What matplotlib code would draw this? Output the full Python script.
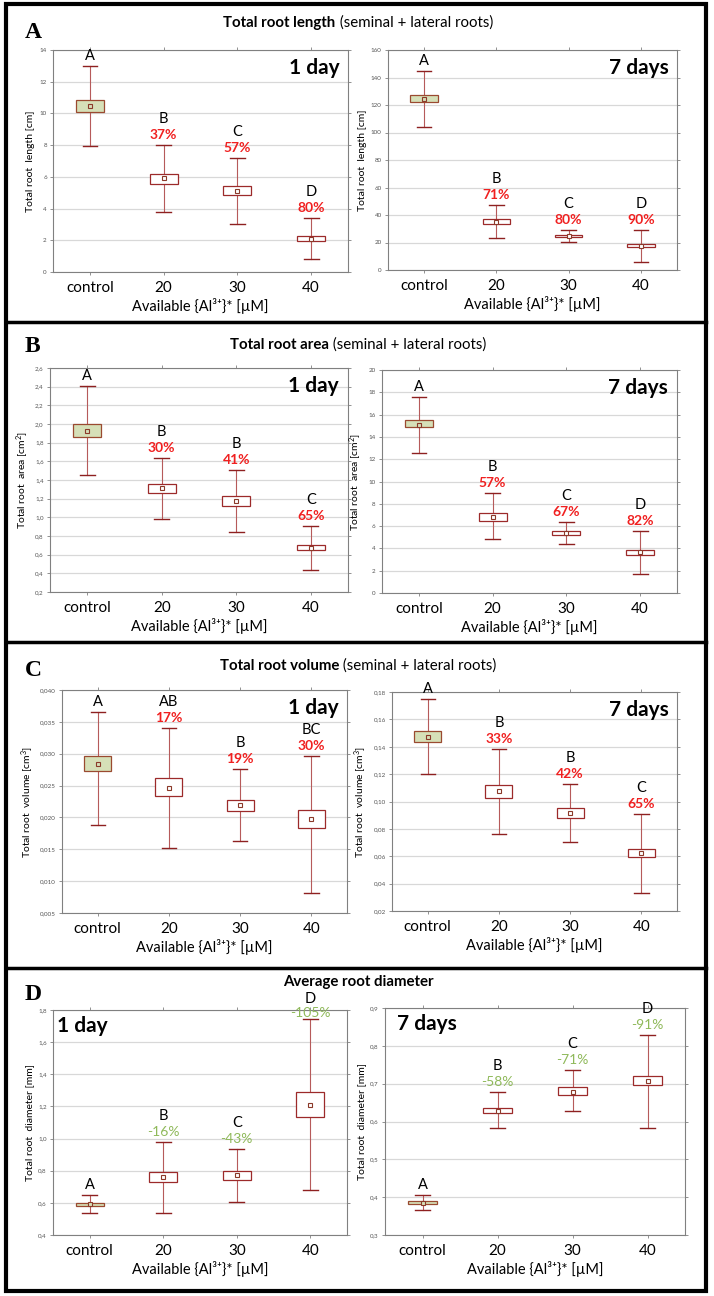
import matplotlib
matplotlib.use("Agg")
import matplotlib.pyplot as plt
from matplotlib.ticker import FuncFormatter, MultipleLocator
from matplotlib.patches import Rectangle
from matplotlib.lines import Line2D

plt.rcParams['font.family'] = ['Lato', 'DejaVu Sans']
plt.rcParams['mathtext.fontset'] = 'custom'
plt.rcParams['mathtext.rm'] = 'Lato'
plt.rcParams['mathtext.it'] = 'Lato:italic'
plt.rcParams['mathtext.bf'] = 'Lato:bold'

categories = ["control", "20", "30", "40"]

# ---- data: mean, box low, box high, whisker low, whisker high ----
A1_mean = [10.45, 5.9, 5.12, 2.1]
A1_q1 = [10.1, 5.58, 4.84, 1.93]
A1_q3 = [10.87, 6.21, 5.45, 2.29]
A1_lo = [7.96, 3.77, 3.05, 0.84]
A1_hi = [13.0, 8.04, 7.22, 3.39]
A1_let = ["A", "B", "C", "D"]
A1_pct = ["", "37%", "57%", "80%"]

A7_mean = [124.1, 34.7, 24.5, 17.5]
A7_q1 = [122.0, 33.2, 23.8, 16.5]
A7_q3 = [127.0, 36.8, 25.7, 18.7]
A7_lo = [103.8, 23.0, 20.1, 5.6]
A7_hi = [145.0, 47.0, 29.1, 29.1]
A7_let = ["A", "B", "C", "D"]
A7_pct = ["", "71%", "80%", "90%"]

B1_mean = [1.925, 1.314, 1.17, 0.67]
B1_q1 = [1.86, 1.264, 1.125, 0.646]
B1_q3 = [1.996, 1.36, 1.225, 0.704]
B1_lo = [1.45, 0.98, 0.846, 0.44]
B1_hi = [2.41, 1.64, 1.507, 0.91]
B1_let = ["A", "B", "B", "C"]
B1_pct = ["", "30%", "41%", "65%"]

B7_mean = [15.09, 6.83, 5.39, 3.65]
B7_q1 = [14.85, 6.5, 5.24, 3.44]
B7_q3 = [15.5, 7.2, 5.54, 3.9]
B7_lo = [12.6, 4.8, 4.37, 1.74]
B7_hi = [17.6, 8.95, 6.38, 5.6]
B7_let = ["A", "B", "C", "D"]
B7_pct = ["", "57%", "67%", "82%"]

C1_mean = [0.02837, 0.02463, 0.02197, 0.01974]
C1_q1 = [0.02727, 0.02330, 0.02103, 0.01827]
C1_q3 = [0.02957, 0.02612, 0.02276, 0.02110]
C1_lo = [0.01885, 0.01527, 0.01637, 0.00817]
C1_hi = [0.0366, 0.0340, 0.02764, 0.0297]
C1_let = ["A", "AB", "B", "BC"]
C1_pct = ["", "17%", "19%", "30%"]

C7_mean = [0.1468, 0.1074, 0.0915, 0.0624]
C7_q1 = [0.1434, 0.1027, 0.0881, 0.0595]
C7_q3 = [0.1514, 0.1120, 0.0954, 0.0651]
C7_lo = [0.120, 0.0766, 0.0705, 0.0334]
C7_hi = [0.1746, 0.1385, 0.1129, 0.091]
C7_let = ["A", "B", "B", "C"]
C7_pct = ["", "33%", "42%", "65%"]

D1_mean = [0.59, 0.759, 0.771, 1.209]
D1_q1 = [0.58, 0.728, 0.744, 1.137]
D1_q3 = [0.60, 0.79, 0.80, 1.288]
D1_lo = [0.535, 0.535, 0.608, 0.68]
D1_hi = [0.647, 0.981, 0.936, 1.745]
D1_let = ["A", "B", "C", "D"]
D1_pct = ["", "-16%", "-43%", "-105%"]

D7_mean = [0.3857, 0.628, 0.678, 0.708]
D7_q1 = [0.382, 0.622, 0.671, 0.696]
D7_q3 = [0.389, 0.637, 0.690, 0.721]
D7_lo = [0.367, 0.583, 0.627, 0.584]
D7_hi = [0.406, 0.678, 0.736, 0.829]
D7_let = ["A", "B", "C", "D"]
D7_pct = ["", "-58%", "-71%", "-91%"]

W, H = 714, 1296
fig = plt.figure(figsize=(W / 100, H / 100), dpi=100)

def rect(x0, y0, x1, y1):
    return [x0 / W, 1 - y1 / H, (x1 - x0) / W, (y1 - y0) / H]

EDGE = "#9c2a2a"
CAP = "#8e2020"
WHISK = "#b65a5a"
CTRL_FACE = "#d6e0b8"
RED = "#f02020"
GREEN = "#8fb95a"
XLABEL = "Available {Al³⁺}* [µM]"

def panel(pos, mean, q1, q3, lo, hi, lets, pcts, ylim, step, decimals,
          ylabel, daytxt, day_topleft, pct_color):
    ax = fig.add_axes(rect(*pos))
    stats = []
    for i in range(len(categories)):
        stats.append(dict(med=mean[i], q1=q1[i], q3=q3[i], whislo=lo[i],
                          whishi=hi[i], mean=mean[i], fliers=[],
                          label=categories[i]))
    bp = ax.bxp(stats, positions=range(len(categories)), widths=0.38,
                capwidths=0.2, patch_artist=True, showmeans=True,
                showfliers=False,
                boxprops=dict(edgecolor=EDGE, linewidth=0.9, facecolor="white"),
                whiskerprops=dict(color=WHISK, linewidth=0.8),
                capprops=dict(color=CAP, linewidth=1.0),
                medianprops=dict(linewidth=0),
                meanprops=dict(marker="s", markersize=3.5, markerfacecolor="white",
                               markeredgecolor="#8b3a2a", markeredgewidth=0.8))
    bp['boxes'][0].set_facecolor(CTRL_FACE)
    bp['boxes'][0].set_edgecolor("#9a4a30")
    bp['means'][0].set_markerfacecolor(CTRL_FACE)
    for b in bp['boxes']:
        b.set_zorder(3)
    for m in bp['means']:
        m.set_zorder(4)
    ax.set_xlim(-0.5, 3.5)
    ax.set_ylim(*ylim)
    ax.yaxis.set_major_locator(MultipleLocator(step))
    ax.yaxis.set_major_formatter(FuncFormatter(
        lambda v, p: (f"{v:.{decimals}f}").replace(".", ",")))
    ax.grid(axis="y", color="#d8d8d8", linewidth=0.9, zorder=0)
    ax.set_axisbelow(True)
    for s in ax.spines.values():
        s.set_color("#808080")
        s.set_linewidth(0.8)
    ax.tick_params(axis="y", labelsize=4.5, labelcolor="#555555", length=2.5,
                   width=0.6, color="#808080", right=True, direction="out", pad=2)
    ax.tick_params(axis="x", labelsize=11, length=2.5, width=0.6,
                   color="#808080", top=True, direction="out", pad=4)
    ax.set_xticks(range(len(categories)))
    ax.set_xticklabels(categories)
    ax.set_xlabel(XLABEL, fontsize=10.5, labelpad=2,
                  family=['Lato', 'DejaVu Sans'])
    ax.set_ylabel(ylabel, fontsize=7.5, labelpad=3)
    ytop = ylim[1]
    yr = ylim[1] - ylim[0]
    for i in range(len(categories)):
        tight = (ytop - hi[i]) < 0.06 * yr and pcts[i]
        if pcts[i]:
            ax.annotate(pcts[i], xy=(i, hi[i]), xytext=(0, 0 if tight else 4),
                        textcoords="offset pixels", ha="center", va="bottom",
                        fontsize=10, fontweight="bold" if pct_color == RED else "normal",
                        color=pct_color, annotation_clip=False)
            off = 13 if tight else 19
        else:
            off = 3
        ax.annotate(lets[i], xy=(i, hi[i]), xytext=(0, off),
                    textcoords="offset pixels", ha="center", va="bottom",
                    fontsize=10.5, color="black", annotation_clip=False)
    if day_topleft:
        ax.text(0.015 if daytxt == "1 day" else 0.04, 0.93, daytxt,
                transform=ax.transAxes, ha="left", va="center",
                fontsize=15, fontweight="bold")
    else:
        ax.text(0.97, 0.92, daytxt, transform=ax.transAxes, ha="right",
                va="center", fontsize=15, fontweight="bold")
    return ax

panel((53, 50, 348, 272), A1_mean, A1_q1, A1_q3, A1_lo, A1_hi, A1_let, A1_pct,
      (0, 14), 2, 0, "Total root  length [cm]", "1 day", False, RED)
panel((388, 50, 677, 270), A7_mean, A7_q1, A7_q3, A7_lo, A7_hi, A7_let, A7_pct,
      (0, 160), 20, 0, "Total root  length [cm]", "7 days", False, RED)
panel((50, 368, 348, 592), B1_mean, B1_q1, B1_q3, B1_lo, B1_hi, B1_let, B1_pct,
      (0.2, 2.6), 0.2, 1, "Total root  area [cm$^{2}$]", "1 day", False, RED)
panel((382, 370, 677, 593), B7_mean, B7_q1, B7_q3, B7_lo, B7_hi, B7_let, B7_pct,
      (0, 20), 2, 0, "Total root  area [cm$^{2}$]", "7 days", False, RED)
panel((62, 690, 347, 913), C1_mean, C1_q1, C1_q3, C1_lo, C1_hi, C1_let, C1_pct,
      (0.005, 0.040), 0.005, 3, "Total root  volume [cm$^{3}$]", "1 day", False, RED)
panel((392, 692, 677, 911), C7_mean, C7_q1, C7_q3, C7_lo, C7_hi, C7_let, C7_pct,
      (0.02, 0.18), 0.02, 2, "Total root  volume [cm$^{3}$]", "7 days", False, RED)
panel((53, 1010, 347, 1235), D1_mean, D1_q1, D1_q3, D1_lo, D1_hi, D1_let, D1_pct,
      (0.4, 1.8), 0.2, 1, "Total root  diameter [mm]", "1 day", True, GREEN)
panel((385, 1008, 685, 1235), D7_mean, D7_q1, D7_q3, D7_lo, D7_hi, D7_let, D7_pct,
      (0.3, 0.9), 0.1, 1, "Total root  diameter [mm]", "7 days", True, GREEN)

# titles (bold part + normal part), centered
renderer = fig.canvas.get_renderer()
titles = [("Total root length", " (seminal + lateral roots)", 23),
          ("Total root area", " (seminal + lateral roots)", 345),
          ("Total root volume", " (seminal + lateral roots)", 666),
          ("Average root diameter", "", 982)]
for bold, normal, ypx in titles:
    t1 = fig.text(0, 1 - ypx / H, bold, fontsize=10.8, fontweight="bold",
                  ha="left", va="center")
    w1 = t1.get_window_extent(renderer).width
    w2 = 0
    if normal:
        t2 = fig.text(0, 1 - ypx / H, normal, fontsize=10.8, ha="left", va="center")
        w2 = t2.get_window_extent(renderer).width
    x0 = 358 - (w1 + w2) / 2
    t1.set_x(x0 / W)
    if normal:
        t2.set_x((x0 + w1) / W)

# panel letters
for letter, ypx in [("A", 33), ("B", 347), ("C", 670), ("D", 995)]:
    fig.text(25 / W, 1 - ypx / H, letter, fontsize=17, fontweight="bold",
             family="Liberation Serif", ha="left", va="center")

# frame and separators
fig.add_artist(Rectangle((6 / W, 1 - 1291 / H), 700 / W, 1287 / H,
                         transform=fig.transFigure, fill=False,
                         edgecolor="black", linewidth=3))
for ypx in [322, 642, 968]:
    fig.add_artist(Line2D([6 / W, 706 / W], [1 - ypx / H, 1 - ypx / H],
                          transform=fig.transFigure, color="black", linewidth=2.5))

fig.savefig("out.png", dpi=100)
